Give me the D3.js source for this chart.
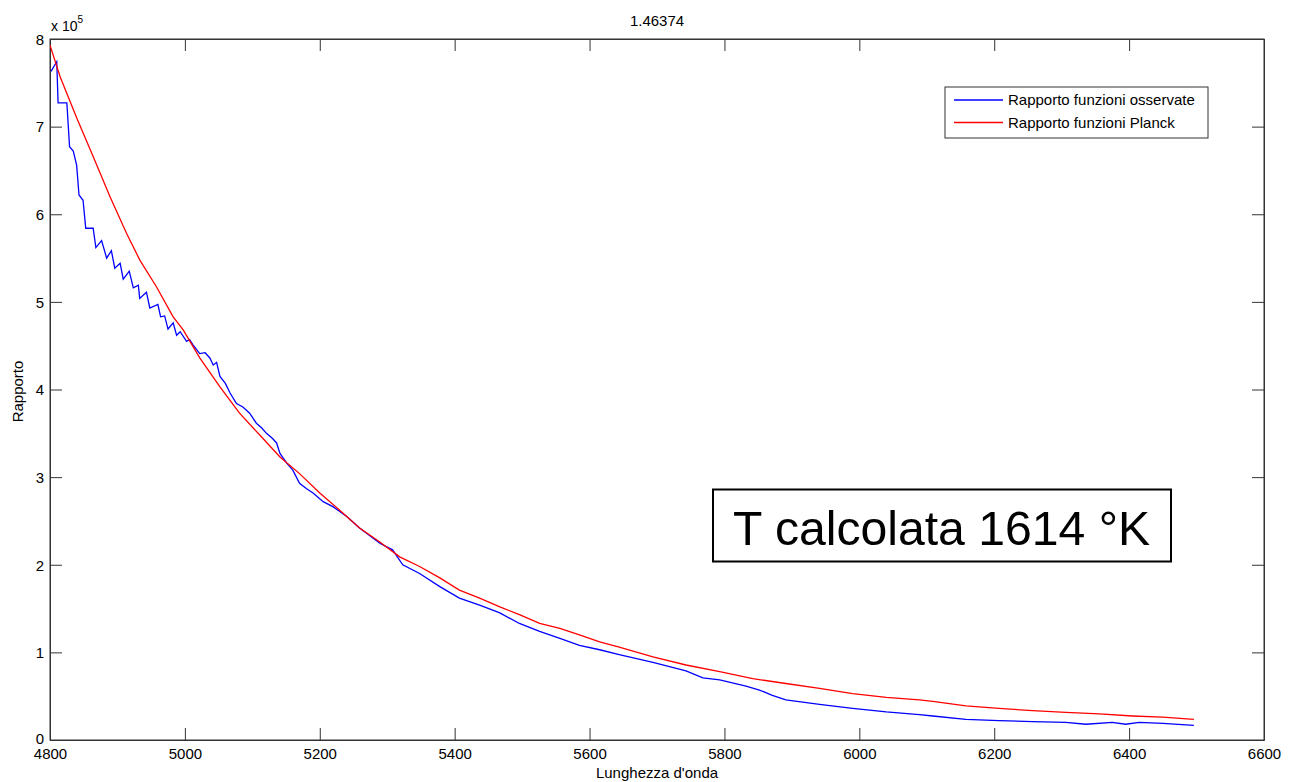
<!DOCTYPE html>
<html>
<head>
<meta charset="utf-8">
<script src="https://cdn.jsdelivr.net/npm/d3@7"></script>
<style>
  html, body { margin: 0; padding: 0; background: #fff; }
  svg { display: block; font-family: "Liberation Sans", Arial, sans-serif; }
</style>
</head>
<body>
<svg id="chart" width="1290" height="782"></svg>
<script>
// ---- Data (y values in units of 1e5) ----
const titleText = "1.46374";
const xLabelText = "Lunghezza d'onda";
const yLabelText = "Rapporto";
const legendLabels = ["Rapporto funzioni osservate", "Rapporto funzioni Planck"];
const annotationText = "T calcolata 1614 °K";
const xTicks = [4800, 5000, 5200, 5400, 5600, 5800, 6000, 6200, 6400, 6600];
const yTicks = [0, 1, 2, 3, 4, 5, 6, 7, 8];

const observedX = [4801.5,4810,4812,4825,4829,4834.5,4839.5,4843,4849,4853,4864,4868,4876.5,4884,4891,4896,4904,4908.6,4917.5,4923.5,4931,4933,4943,4948,4960,4964,4970,4975,4982.6,4987.7,4993,5002.5,5007,5012,5022,5030,5037,5042,5047,5052,5060,5067,5076.5,5086,5096,5106,5114,5121,5130,5136,5141,5151,5160,5170,5180,5190,5205,5220,5240,5259,5289,5308,5323,5348,5378,5407,5437,5467,5496,5526,5556,5585,5615,5644,5694,5743,5768,5793,5832,5852,5871,5891,5941,5990,6040,6089,6109,6158,6207,6257,6306,6336,6375,6395,6415,6450,6496];
const observedY = [7.63,7.74,7.27,7.27,6.77,6.72,6.56,6.22,6.16,5.84,5.84,5.62,5.70,5.50,5.585,5.385,5.44,5.26,5.35,5.16,5.19,5.04,5.11,4.93,4.97,4.83,4.84,4.69,4.76,4.62,4.66,4.55,4.57,4.51,4.41,4.42,4.36,4.28,4.31,4.15,4.07,3.96,3.84,3.80,3.73,3.615,3.56,3.50,3.44,3.39,3.27,3.16,3.08,2.93,2.87,2.82,2.72,2.66,2.55,2.42,2.245,2.17,2.00,1.90,1.75,1.62,1.54,1.45,1.33,1.24,1.16,1.08,1.03,0.975,0.886,0.79,0.71,0.685,0.616,0.57,0.51,0.457,0.407,0.36,0.32,0.29,0.274,0.236,0.22,0.21,0.20,0.18,0.20,0.18,0.20,0.19,0.168];

const planckX = [4800,4815,4839.5,4864,4889,4913.6,4933,4958,4982.6,4997.5,5022,5052,5081,5111,5141,5170,5200,5230,5259,5289,5318.5,5348,5378,5407,5437,5467,5496,5526,5556,5585,5615,5644,5694,5743,5793,5842,5891,5941,5990,6040,6089,6109,6158,6207,6257,6306,6356,6405,6450,6496];
const planckY = [7.93,7.57,7.10,6.66,6.20,5.78,5.48,5.17,4.83,4.68,4.36,4.03,3.73,3.48,3.23,3.04,2.82,2.62,2.42,2.26,2.09,1.98,1.85,1.71,1.62,1.52,1.43,1.33,1.275,1.20,1.12,1.06,0.95,0.856,0.78,0.70,0.645,0.59,0.53,0.487,0.457,0.44,0.39,0.36,0.335,0.315,0.297,0.274,0.26,0.236];

const seriesColors = ["#0000ff", "#ff0000"];

// ---- Layout ----
const L = 50, R = 1264, T = 39, B = 740;
const svg = d3.select("#chart");
svg.append("rect").attr("width", 1290).attr("height", 782).attr("fill", "#fff");

const x = d3.scaleLinear().domain([4800, 6600]).range([L, R]);
const y = d3.scaleLinear().domain([0, 8]).range([B, T]);

const axisColor = "#333";
const tickLen = 12;
const fontSize = 15;

// Plot frame
svg.append("rect").attr("x", L).attr("y", T).attr("width", R - L).attr("height", B - T)
  .attr("fill", "none").attr("stroke", axisColor).attr("stroke-width", 1);

// Axes (inward ticks, mirrored on top/right)
const xAxis = svg.append("g").attr("transform", `translate(0,${B})`)
  .call(d3.axisBottom(x).tickValues(xTicks).tickSizeInner(-tickLen).tickSizeOuter(0).tickPadding(6).tickFormat(d3.format("d")));
const xAxisTop = svg.append("g").attr("transform", `translate(0,${T})`)
  .call(d3.axisTop(x).tickValues(xTicks).tickSizeInner(-tickLen).tickSizeOuter(0).tickFormat(""));
const yAxis = svg.append("g").attr("transform", `translate(${L},0)`)
  .call(d3.axisLeft(y).tickValues(yTicks).tickSizeInner(-tickLen).tickSizeOuter(0).tickPadding(6).tickFormat(d3.format("d")));
const yAxisRight = svg.append("g").attr("transform", `translate(${R},0)`)
  .call(d3.axisRight(y).tickValues(yTicks).tickSizeInner(-tickLen).tickSizeOuter(0).tickFormat(""));

[xAxis, xAxisTop, yAxis, yAxisRight].forEach(g => {
  g.select(".domain").attr("stroke", axisColor);
  g.selectAll(".tick line").attr("stroke", axisColor);
  g.selectAll(".tick text").attr("fill", "#000").style("font-size", fontSize + "px")
    .style("font-family", "'Liberation Sans', Arial, sans-serif");
});
xAxis.selectAll(".tick text").attr("y", 0).attr("dy", "1.24em");
yAxis.selectAll(".tick text").attr("dy", d => d === 0 ? "0.22em" : "0.35em");

// Exponent label
const expText = svg.append("text").attr("x", L + 1).attr("y", 31)
  .style("font-size", "14px").attr("fill", "#000");
expText.append("tspan").text("x 10");
expText.append("tspan").attr("dy", -8).style("font-size", "10px").text("5");

// Title
svg.append("text").attr("x", (L + R) / 2).attr("y", 26).attr("text-anchor", "middle")
  .style("font-size", fontSize + "px").attr("fill", "#000").text(titleText);

// Axis labels
svg.append("text").attr("x", (L + R) / 2).attr("y", 778).attr("text-anchor", "middle")
  .style("font-size", fontSize + "px").attr("fill", "#000").text(xLabelText);
svg.append("text").attr("transform", `translate(23,${(T + B) / 2 + 2}) rotate(-90)`)
  .attr("text-anchor", "middle").style("font-size", fontSize + "px").attr("fill", "#000").text(yLabelText);

// Lines
const line = d3.line().x(d => x(d[0])).y(d => y(d[1]));
const observed = observedX.map((v, i) => [v, observedY[i]]);
const planck = planckX.map((v, i) => [v, planckY[i]]);

svg.append("clipPath").attr("id", "clip").append("rect")
  .attr("x", L).attr("y", T).attr("width", R - L).attr("height", B - T);

svg.append("path").datum(observed).attr("d", line).attr("fill", "none")
  .attr("stroke", seriesColors[0]).attr("stroke-width", 1.3).attr("clip-path", "url(#clip)");
svg.append("path").datum(planck).attr("d", line).attr("fill", "none")
  .attr("stroke", seriesColors[1]).attr("stroke-width", 1.3).attr("clip-path", "url(#clip)");

// Legend
const lg = svg.append("g");
lg.append("rect").attr("x", 945).attr("y", 87).attr("width", 263).attr("height", 51)
  .attr("fill", "#fff").attr("stroke", axisColor).attr("stroke-width", 1);
legendLabels.forEach((lab, i) => {
  const yy = 100 + i * 22.5;
  lg.append("line").attr("x1", 954).attr("x2", 1003).attr("y1", yy).attr("y2", yy)
    .attr("stroke", seriesColors[i]).attr("stroke-width", 1.3);
  lg.append("text").attr("x", 1008).attr("y", yy).attr("dy", "0.35em")
    .style("font-size", fontSize + "px").attr("fill", "#000").text(lab);
});

// Annotation box
svg.append("rect").attr("x", 713).attr("y", 489.5).attr("width", 458).attr("height", 72)
  .attr("fill", "#fff").attr("stroke", "#000").attr("stroke-width", 2);
svg.append("text").attr("x", 733).attr("y", 545).attr("textLength", 417).attr("lengthAdjust", "spacingAndGlyphs")
  .style("font-size", "48px").attr("fill", "#000").text(annotationText);
</script>
</body>
</html>
